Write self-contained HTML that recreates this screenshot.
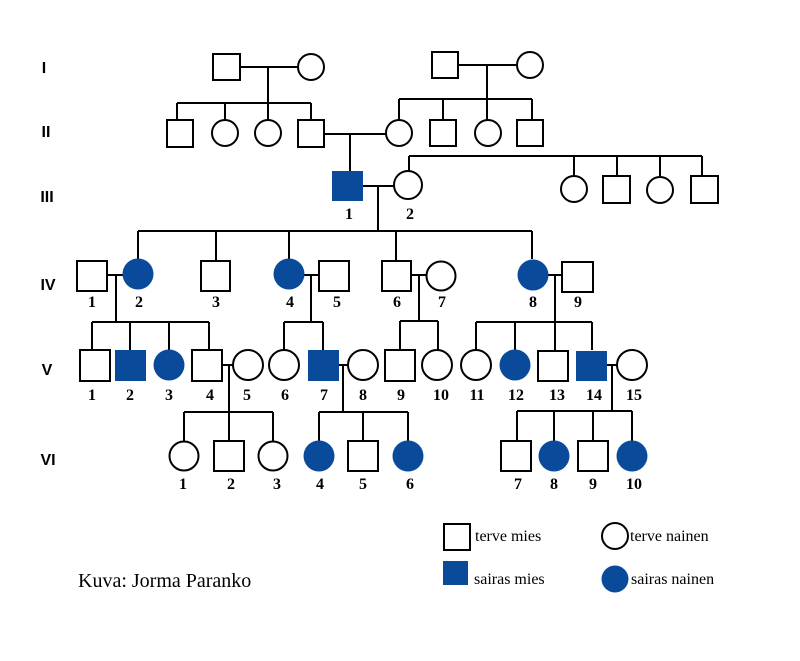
<!DOCTYPE html>
<html><head><meta charset="utf-8"><style>html,body{margin:0;padding:0;background:#fff}svg{display:block}</style></head>
<body>
<svg width="800" height="661" viewBox="0 0 800 661" xmlns="http://www.w3.org/2000/svg">
<g stroke="#000" stroke-width="2" fill="none">
<!-- Gen I -->
<line x1="240" y1="67" x2="298" y2="67"/><line x1="268" y1="67" x2="268" y2="103"/>
<line x1="458" y1="65" x2="517" y2="65"/><line x1="487" y1="65" x2="487" y2="99"/>
<!-- Gen II sib lines -->
<line x1="177" y1="103" x2="311" y2="103"/>
<line x1="177" y1="103" x2="177" y2="120"/><line x1="225" y1="103" x2="225" y2="120"/><line x1="268" y1="103" x2="268" y2="120"/><line x1="311" y1="103" x2="311" y2="120"/>
<line x1="399" y1="99" x2="532" y2="99"/>
<line x1="399" y1="99" x2="399" y2="120"/><line x1="443" y1="99" x2="443" y2="120"/><line x1="487" y1="99" x2="487" y2="120"/><line x1="532" y1="99" x2="532" y2="120"/>
<line x1="324" y1="134" x2="386" y2="134"/><line x1="350" y1="134" x2="350" y2="171"/>
<!-- Gen III -->
<line x1="363" y1="186" x2="394" y2="186"/><line x1="378" y1="186" x2="378" y2="231"/>
<line x1="409" y1="156" x2="702" y2="156"/><line x1="409" y1="156" x2="409" y2="171"/>
<line x1="574" y1="156" x2="574" y2="176"/><line x1="617" y1="156" x2="617" y2="176"/><line x1="660" y1="156" x2="660" y2="176"/><line x1="702" y1="156" x2="702" y2="176"/>
<!-- Gen IV -->
<line x1="138" y1="231" x2="532" y2="231"/>
<line x1="138" y1="231" x2="138" y2="259"/><line x1="216" y1="231" x2="216" y2="261"/><line x1="289" y1="231" x2="289" y2="259"/><line x1="396" y1="231" x2="396" y2="261"/><line x1="532" y1="231" x2="532" y2="259"/>
<line x1="107" y1="275" x2="123" y2="275"/><line x1="116" y1="275" x2="116" y2="322"/>
<line x1="304" y1="275" x2="319" y2="275"/><line x1="311" y1="275" x2="311" y2="322"/>
<line x1="411" y1="275" x2="427" y2="275"/><line x1="419" y1="275" x2="419" y2="321"/>
<line x1="548" y1="275" x2="562" y2="275"/><line x1="555" y1="275" x2="555" y2="322"/>
<!-- Gen V sib lines -->
<line x1="92" y1="322" x2="209" y2="322"/>
<line x1="92" y1="322" x2="92" y2="350"/><line x1="130" y1="322" x2="130" y2="350"/><line x1="169" y1="322" x2="169" y2="350"/><line x1="209" y1="322" x2="209" y2="350"/>
<line x1="284" y1="322" x2="323" y2="322"/><line x1="284" y1="322" x2="284" y2="350"/><line x1="323" y1="322" x2="323" y2="350"/>
<line x1="400" y1="321" x2="438" y2="321"/><line x1="400" y1="321" x2="400" y2="350"/><line x1="438" y1="321" x2="438" y2="350"/>
<line x1="476" y1="322" x2="592" y2="322"/>
<line x1="476" y1="322" x2="476" y2="350"/><line x1="515" y1="322" x2="515" y2="350"/><line x1="555" y1="322" x2="555" y2="350"/><line x1="592" y1="322" x2="592" y2="350"/>
<!-- Gen V marriages -->
<line x1="222" y1="365" x2="233" y2="365"/><line x1="229" y1="365" x2="229" y2="412"/>
<line x1="339" y1="365" x2="348" y2="365"/><line x1="343" y1="365" x2="343" y2="412"/>
<line x1="607" y1="365" x2="617" y2="365"/><line x1="612" y1="365" x2="612" y2="411"/>
<!-- Gen VI sib lines -->
<line x1="184" y1="412" x2="273" y2="412"/><line x1="184" y1="412" x2="184" y2="441"/><line x1="229" y1="412" x2="229" y2="441"/><line x1="273" y1="412" x2="273" y2="441"/>
<line x1="319" y1="412" x2="408" y2="412"/><line x1="319" y1="412" x2="319" y2="441"/><line x1="363" y1="412" x2="363" y2="441"/><line x1="408" y1="412" x2="408" y2="441"/>
<line x1="517" y1="411" x2="632" y2="411"/><line x1="517" y1="411" x2="517" y2="441"/><line x1="554" y1="411" x2="554" y2="441"/><line x1="593" y1="411" x2="593" y2="441"/><line x1="632" y1="411" x2="632" y2="441"/>
</g>
<g stroke="#000" stroke-width="2" fill="#fff">
<!-- I -->
<rect x="213" y="54" width="27" height="26"/><circle cx="311" cy="67" r="13"/>
<rect x="432" y="52" width="26" height="26"/><circle cx="530" cy="65" r="13"/>
<!-- II -->
<rect x="167" y="120" width="26" height="27"/><circle cx="225" cy="133" r="13"/><circle cx="268" cy="133" r="13"/><rect x="298" y="120" width="26" height="27"/>
<circle cx="399" cy="133" r="13"/><rect x="430" y="120" width="26" height="26"/><circle cx="488" cy="133" r="13"/><rect x="517" y="120" width="26" height="26"/>
<!-- III -->
<circle cx="408" cy="185" r="14"/>
<circle cx="574" cy="189" r="13"/><rect x="603" y="176" width="27" height="27"/><circle cx="660" cy="190" r="13"/><rect x="691" y="176" width="27" height="27"/>
<!-- IV -->
<rect x="77" y="261" width="30" height="30"/><rect x="201" y="261" width="29" height="30"/><rect x="319" y="261" width="30" height="30"/>
<rect x="382" y="261" width="29" height="30"/><circle cx="441" cy="276" r="14.5"/><rect x="562" y="262" width="31" height="30"/>
<!-- V -->
<rect x="80" y="350" width="30" height="31"/><rect x="192" y="350" width="30" height="31"/><circle cx="248" cy="365" r="15"/><circle cx="284" cy="365" r="15"/>
<circle cx="363" cy="365" r="15"/><rect x="385" y="350" width="30" height="31"/><circle cx="437" cy="365" r="15"/>
<circle cx="476" cy="365" r="15"/><rect x="538" y="351" width="30" height="30"/><circle cx="632" cy="365" r="15"/>
<!-- VI -->
<circle cx="184" cy="456" r="14.5"/><rect x="214" y="441" width="30" height="30"/><circle cx="273" cy="456" r="14.5"/>
<rect x="348" y="441" width="30" height="30"/><rect x="501" y="441" width="30" height="30"/><rect x="578" y="441" width="30" height="30"/>
<!-- legend -->
<rect x="444" y="524" width="26" height="26"/><circle cx="615" cy="536" r="13"/>
</g>
<g fill="#0a4a9a">
<rect x="332" y="171" width="31" height="30"/>
<circle cx="138" cy="274" r="15.5"/><circle cx="289" cy="274" r="15.5"/><circle cx="533" cy="275" r="15.5"/>
<rect x="115" y="350" width="31" height="31"/><circle cx="169" cy="365" r="15.5"/><rect x="308" y="350" width="31" height="31"/><circle cx="515" cy="365" r="15.5"/><rect x="576" y="351" width="31" height="30"/>
<circle cx="319" cy="456" r="15.5"/><circle cx="408" cy="456" r="15.5"/><circle cx="554" cy="456" r="15.5"/><circle cx="632" cy="456" r="15.5"/>
<rect x="443" y="561" width="25" height="24"/><circle cx="615" cy="579" r="13.5"/>
</g>
<g font-family="Liberation Sans, sans-serif" font-weight="bold" font-size="16" fill="#000" text-anchor="middle">
<text x="44" y="73">I</text><text x="46" y="137">II</text><text x="47" y="202">III</text><text x="48" y="290">IV</text><text x="47" y="375">V</text><text x="48" y="465">VI</text>
</g>
<g font-family="Liberation Serif, serif" font-weight="bold" font-size="16" fill="#000" text-anchor="middle">
<text x="349" y="219">1</text><text x="410" y="219">2</text>
<text x="92" y="307">1</text><text x="139" y="307">2</text><text x="216" y="307">3</text><text x="290" y="307">4</text><text x="337" y="307">5</text><text x="397" y="307">6</text><text x="442" y="307">7</text><text x="533" y="307">8</text><text x="578" y="307">9</text>
<text x="92" y="400">1</text><text x="130" y="400">2</text><text x="169" y="400">3</text><text x="210" y="400">4</text><text x="247" y="400">5</text><text x="285" y="400">6</text><text x="324" y="400">7</text><text x="363" y="400">8</text><text x="401" y="400">9</text><text x="441" y="400">10</text>
<text x="477" y="400">11</text><text x="516" y="400">12</text><text x="557" y="400">13</text><text x="594" y="400">14</text><text x="634" y="400">15</text>
<text x="183" y="489">1</text><text x="231" y="489">2</text><text x="277" y="489">3</text><text x="320" y="489">4</text><text x="363" y="489">5</text><text x="410" y="489">6</text>
<text x="518" y="489">7</text><text x="554" y="489">8</text><text x="593" y="489">9</text><text x="634" y="489">10</text>
</g>
<g font-family="Liberation Serif, serif" font-size="16" fill="#000">
<text x="475" y="541">terve mies</text><text x="630" y="541">terve nainen</text>
<text x="474" y="584">sairas mies</text><text x="631" y="584">sairas nainen</text>
<text x="78" y="587" font-size="20">Kuva: Jorma Paranko</text>
</g>
</svg>
</body></html>
